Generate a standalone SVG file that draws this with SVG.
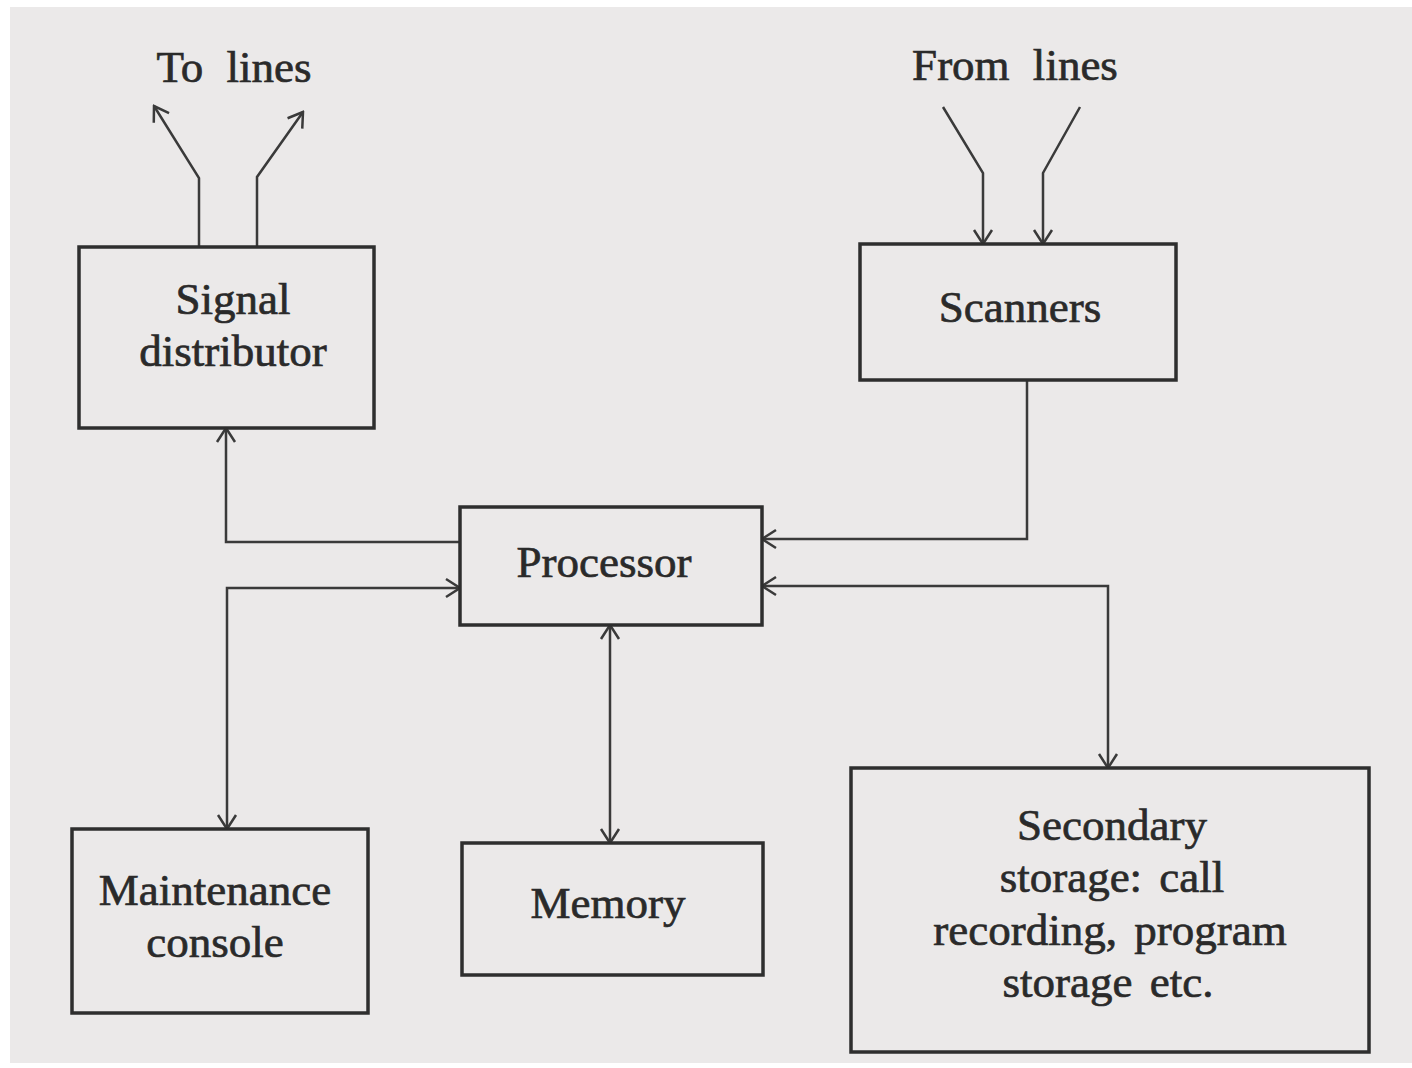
<svg xmlns="http://www.w3.org/2000/svg" width="1412" height="1068" viewBox="0 0 1412 1068">
  <defs>
    <style>
      .box { fill: #ebe9e9; stroke: #2e2e2e; stroke-width: 3.5; }
      .lbl { font-family: "Liberation Serif", "Times New Roman", serif; font-size: 45px; fill: #2a2a2a; stroke: #2a2a2a; stroke-width: 0.7; text-anchor: middle; word-spacing: 6px; }
      .wire { fill: none; stroke: #3a3a3a; stroke-width: 2.5; }
    </style>
    <marker id="arrow" viewBox="-16 -11 18 22" refX="0" refY="0" markerWidth="18" markerHeight="22" markerUnits="userSpaceOnUse" orient="auto-start-reverse">
      <path d="M -14 -9 L 0 0 L -14 9" fill="none" stroke="#3a3a3a" stroke-width="2.5"/>
    </marker>
  </defs>

  <!-- paper -->
  <rect x="0" y="0" width="1412" height="1068" fill="#ffffff"/>
  <rect x="10" y="7" width="1402" height="1056" fill="#ebe9e9"/>

  <!-- free labels -->
  <text class="lbl" x="234" y="82" style="word-spacing:12px">To lines</text>
  <text class="lbl" x="1015" y="80" style="word-spacing:12px">From lines</text>

  <!-- connectors -->
  <g id="connectors">
    <path class="wire" d="M199 247 V178 L154 106" marker-end="url(#arrow)"/>
    <path class="wire" d="M257 247 V177 L303 112" marker-end="url(#arrow)"/>
    <path class="wire" d="M943 107 L983 173 V244" marker-end="url(#arrow)"/>
    <path class="wire" d="M1080 107 L1043 173 V244" marker-end="url(#arrow)"/>
    <path class="wire" d="M460 542 H226 V428" marker-end="url(#arrow)"/>
    <path class="wire" d="M227 829 V588 H460" marker-start="url(#arrow)" marker-end="url(#arrow)"/>
    <path class="wire" d="M1027 380 V539 H762" marker-end="url(#arrow)"/>
    <path class="wire" d="M762 586 H1108 V768" marker-start="url(#arrow)" marker-end="url(#arrow)"/>
    <path class="wire" d="M610 625 V843" marker-start="url(#arrow)" marker-end="url(#arrow)"/>
  </g>

  <!-- nodes -->
  <g id="signal-distributor">
    <rect class="box" x="79" y="247" width="295" height="181"/>
    <text class="lbl" x="233" y="314">Signal</text>
    <text class="lbl" x="233" y="366">distributor</text>
  </g>

  <g id="scanners">
    <rect class="box" x="860" y="244" width="316" height="136"/>
    <text class="lbl" x="1020" y="322">Scanners</text>
  </g>

  <g id="processor">
    <rect class="box" x="460" y="507" width="302" height="118"/>
    <text class="lbl" x="604" y="577">Processor</text>
  </g>

  <g id="maintenance-console">
    <rect class="box" x="72" y="829" width="296" height="184"/>
    <text class="lbl" x="215" y="905">Maintenance</text>
    <text class="lbl" x="215" y="957">console</text>
  </g>

  <g id="memory">
    <rect class="box" x="462" y="843" width="301" height="132"/>
    <text class="lbl" x="608" y="918">Memory</text>
  </g>

  <g id="secondary-storage">
    <rect class="box" x="851" y="768" width="518" height="284"/>
    <text class="lbl" x="1112" y="840">Secondary</text>
    <text class="lbl" x="1112" y="892">storage:  call</text>
    <text class="lbl" x="1110" y="945">recording,  program</text>
    <text class="lbl" x="1108" y="997">storage  etc.</text>
  </g>
</svg>
